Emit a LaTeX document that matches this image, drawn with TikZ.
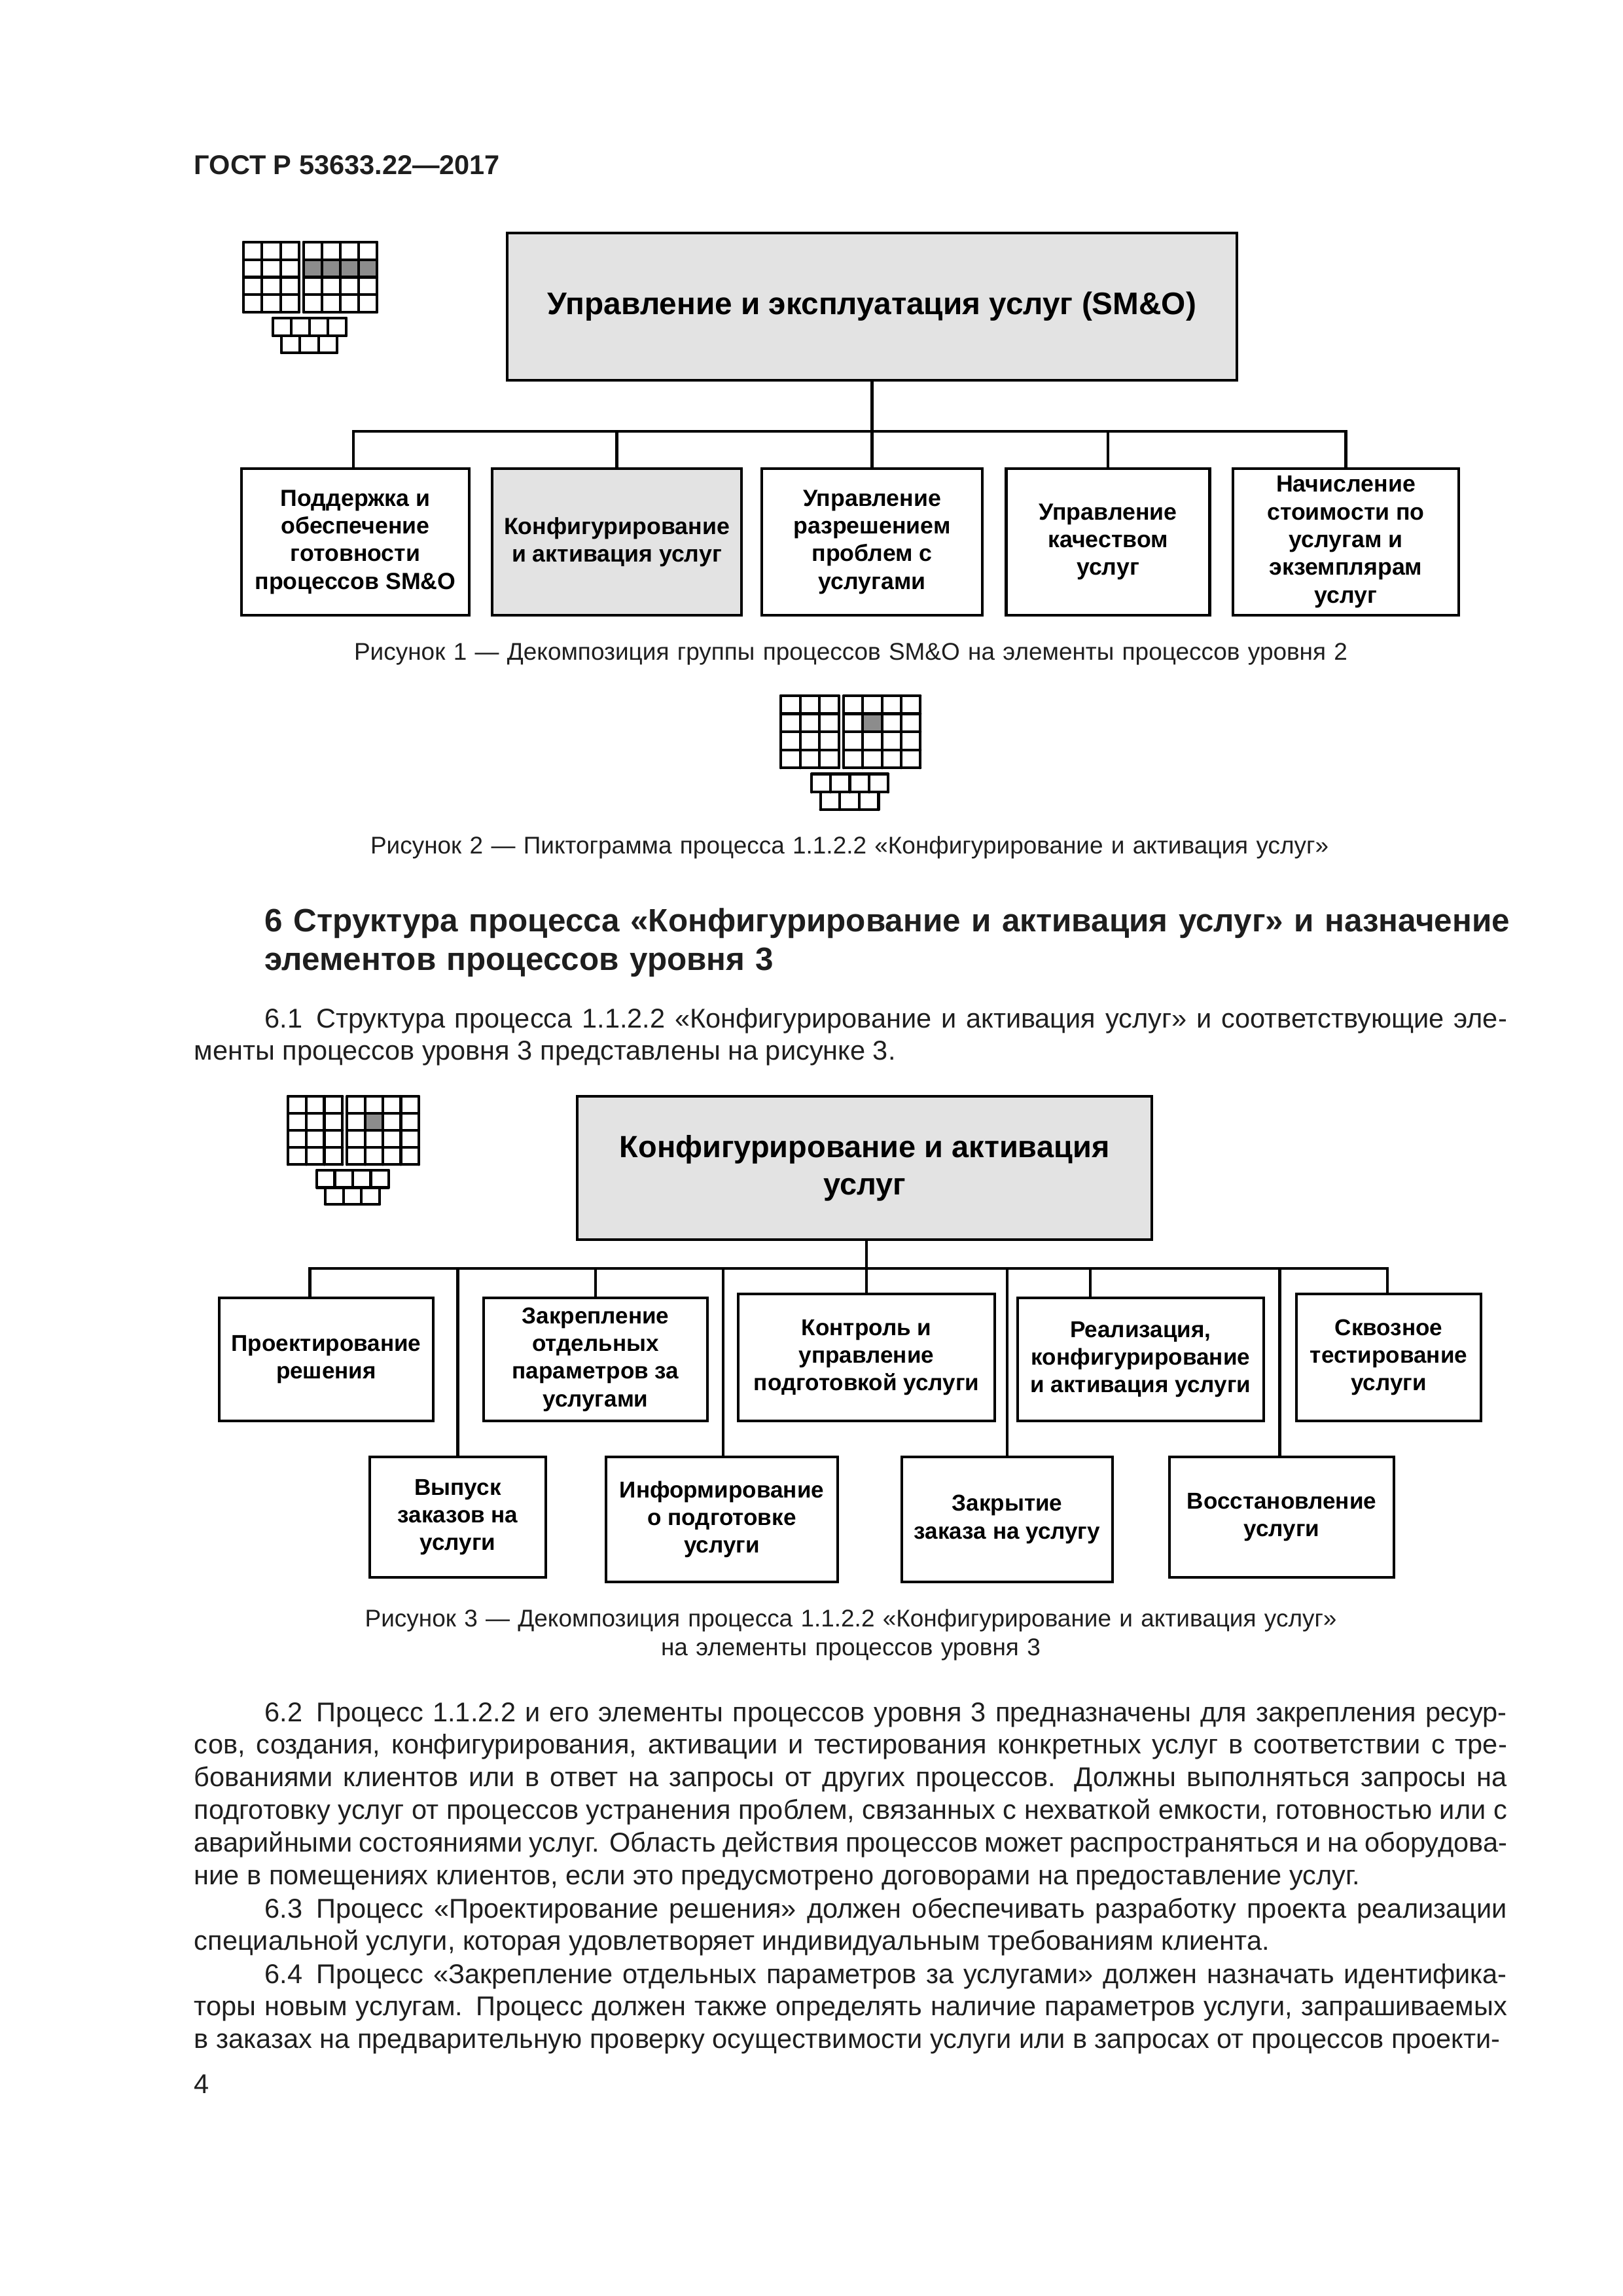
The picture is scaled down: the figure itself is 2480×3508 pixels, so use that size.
\documentclass[tikz,border=0pt]{standalone}
\usepackage{fontspec}
\setmainfont{Liberation Sans}
\usetikzlibrary{calc}

\newcommand{\px}{0.0846774mm}
\definecolor{paperInk}{HTML}{1E1E1E}
\definecolor{boxGrey}{HTML}{E3E3E3}
\definecolor{cellGrey}{HTML}{8C8C8C}

\tikzset{
    boxLine/.style={draw=black, line width=1.05pt},
    headBox/.style={boxLine, fill=boxGrey, inner sep=0pt, align=center, font=\fontsize{11.5}{13.7}\selectfont\bfseries},
    procBox/.style={boxLine, fill=white, inner sep=0pt, align=center, font=\fontsize{8.6}{10.2}\selectfont\bfseries},
    stepBox/.style={procBox, font=\fontsize{8.45}{10.2}\selectfont\bfseries},
    sized/.style 2 args={minimum width=#1*\px, minimum height=#2*\px},
    bodyText/.style={anchor=base west, inner sep=0pt, text=paperInk, text width=2006*\px, align=justify, font=\fontsize{10}{12}\selectfont},
    captionText/.style={anchor=base, inner sep=0pt, text=paperInk, text width=1900*\px, align=center, font=\fontsize{8.9}{10.8}\selectfont},
    iconLine/.style={draw=black, line width=1pt, line cap=round},
}

% x0 y0 x1 y1 cols rows
\newcommand{\cellGrid}[6]{
    \foreach \i in {0,...,#5}{
        \pgfmathsetmacro{\lineX}{#1 + \i*(#3 - #1)/#5}
        \draw[iconLine] (\lineX,#2) -- (\lineX,#4);
    }
    \foreach \j in {0,...,#6}{
        \pgfmathsetmacro{\lineY}{#2 + \j*(#4 - #2)/#6}
        \draw[iconLine] (#1,\lineY) -- (#3,\lineY);
    }
}
% scope options, shaded columns of the second row
\newcommand{\pictogram}[2]{
    \begin{scope}[#1]
        \foreach \c in {#2}{
            \fill[cellGrey] (92 + \c*28,26.75) rectangle (120 + \c*28,53.5);
        }
        \cellGrid{0}{0}{85}{107}{3}{4}
        \cellGrid{92}{0}{204}{107}{4}{4}
        \cellGrid{45}{116}{157}{143}{4}{1}
        \cellGrid{58}{143}{143}{169}{3}{1}
    \end{scope}
}

\begin{document}
\begin{tikzpicture}[x=\px, y=-\px]
    \useasboundingbox (0,0) rectangle (2480,3508);

    \node[anchor=base west, inner sep=0pt, text=paperInk, font=\fontsize{10}{12}\selectfont\bfseries] (pageHead) at (296,266) {ГОСТ Р 53633.22—2017};

    % figure 1
    \pictogram{shift={(372,370)}}{0,1,2,3}
    \node[headBox, sized={1115}{225}] (topGroup) at (1332.5,468.5) {Управление и эксплуатация услуг (SM\&O)};
    \node[procBox, sized={348}{224}] (kidSupport) at (543,828) {Поддержка и\\обеспечение\\готовности\\процессов SM\&O};
    \node[procBox, sized={381}{224}, fill=boxGrey] (kidConfig) at (942.5,828) {Конфигурирование\\и активация услуг};
    \node[procBox, sized={337}{224}] (kidProblem) at (1332.5,828) {Управление\\разрешением\\проблем с\\услугами};
    \node[procBox, sized={311}{224}] (kidQuality) at (1693,828) {Управление\\качеством\\услуг};
    \node[procBox, sized={345}{224}] (kidBilling) at (2056.5,828) {Начисление\\стоимости по\\услугам и\\экземплярам\\услуг};
    \coordinate (busA) at (1332.5,659);
    \draw[boxLine] (topGroup.south) -- (busA);
    \draw[boxLine] ([xshift=-3*\px]kidSupport.north) |- (busA) -| (kidBilling.north);
    \foreach \kid in {kidConfig,kidProblem,kidQuality}{
        \draw[boxLine] (\kid.north) -- (\kid.north |- busA);
    }
    \node[captionText] (capOne) at (1300,1008) {Рисунок 1 — Декомпозиция группы процессов SM\&O на элементы процессов уровня 2};

    % figure 2
    \pictogram{shift={(1193,1063)}, xscale=1.045, yscale=1.03}{1}
    \node[captionText] (capTwo) at (1298,1304) {Рисунок 2 — Пиктограмма процесса 1.1.2.2 «Конфигурирование и активация услуг»};

    \node[anchor=base west, inner sep=0pt, text=paperInk, text width=1960*\px, align=left, font=\fontsize{11.9}{14.4}\selectfont\bfseries] (secHead) at (404,1423) {6 Структура процесса «Конфигурирование и активация услуг» и назначение\\элементов процессов уровня 3};
    \node[bodyText] (paraOne) at (296,1570) {\hspace*{9.145mm}6.1\enskip Структура процесса 1.1.2.2 «Конфигурирование и активация услуг» и соответствующие эле-\linebreak менты процессов уровня 3 представлены на рисунке 3.};

    % figure 3
    \pictogram{shift={(440,1675)}, xscale=0.98, yscale=0.975}{1}
    \node[headBox, sized={878}{219}, font=\fontsize{11.3}{13.7}\selectfont\bfseries] (topProc) at (1321,1784.5) {Конфигурирование и активация\\услуг};
    \node[stepBox, sized={327}{188}] (stepDesign) at (498.5,2077) {Проектирование\\решения};
    \node[stepBox, sized={342}{188}] (stepParams) at (910,2077) {Закрепление\\отдельных\\параметров за\\услугами};
    \node[stepBox, sized={392}{194}] (stepControl) at (1324,2074) {Контроль и\\управление\\подготовкой услуги};
    \node[stepBox, sized={376}{188}] (stepActivate) at (1743,2077) {Реализация,\\конфигурирование\\и активация услуги};
    \node[stepBox, sized={282}{194}] (stepTest) at (2122,2074) {Сквозное\\тестирование\\услуги};
    \node[stepBox, sized={269}{184}] (stepOrders) at (699.5,2318) {Выпуск\\заказов на\\услуги};
    \node[stepBox, sized={354}{191}] (stepInform) at (1103,2321.5) {Информирование\\о подготовке\\услуги};
    \node[stepBox, sized={322}{191}] (stepClose) at (1539,2321.5) {Закрытие\\заказа на услугу};
    \node[stepBox, sized={343}{184}] (stepRestore) at (1958.5,2318) {Восстановление\\услуги};
    \coordinate (busB) at (1324,1938);
    \draw[boxLine] (topProc.south -| busB) -- (busB);
    \draw[boxLine] ([xshift=-25*\px]stepDesign.north) |- (busB) -| ([xshift=-2*\px]stepTest.north);
    \foreach \stp/\nudge in {stepOrders/0,stepParams/0,stepInform/2,stepControl/0,stepClose/0,stepActivate/-77,stepRestore/-3}{
        \draw[boxLine] ([xshift=\nudge*\px]\stp.north) -- ([xshift=\nudge*\px]\stp.north |- busB);
    }
    \node[captionText] (capThree) at (1300,2485) {Рисунок 3 — Декомпозиция процесса 1.1.2.2 «Конфигурирование и активация услуг»\\на элементы процессов уровня 3};

    \node[bodyText] (paraTwo) at (296,2630) {\hspace*{9.145mm}6.2\enskip Процесс 1.1.2.2 и его элементы процессов уровня 3 предназначены для закрепления ресур-\linebreak сов, создания, конфигурирования, активации и тестирования конкретных услуг в соответствии с тре-\linebreak бованиями клиентов или в ответ на запросы от других процессов. Должны выполняться запросы на\linebreak подготовку услуг от процессов устранения проблем, связанных с нехваткой емкости, готовностью или с\linebreak аварийными состояниями услуг. Область действия процессов может распространяться и на оборудова-\linebreak ние в помещениях клиентов, если это предусмотрено договорами на предоставление услуг.};
    \node[bodyText] (paraThree) at (296,2930) {\hspace*{9.145mm}6.3\enskip Процесс «Проектирование решения» должен обеспечивать разработку проекта реализации\linebreak специальной услуги, которая удовлетворяет индивидуальным требованиям клиента.};
    \node[bodyText] (paraFour) at (296,3030) {\hspace*{9.145mm}6.4\enskip Процесс «Закрепление отдельных параметров за услугами» должен назначать идентифика-\linebreak торы новым услугам. Процесс должен также определять наличие параметров услуги, запрашиваемых\linebreak в заказах на предварительную проверку осуществимости услуги или в запросах от процессов проекти-};
    \node[anchor=base west, inner sep=0pt, text=paperInk, font=\fontsize{10}{12}\selectfont] (pageNum) at (296,3198) {4};
\end{tikzpicture}
\end{document}
